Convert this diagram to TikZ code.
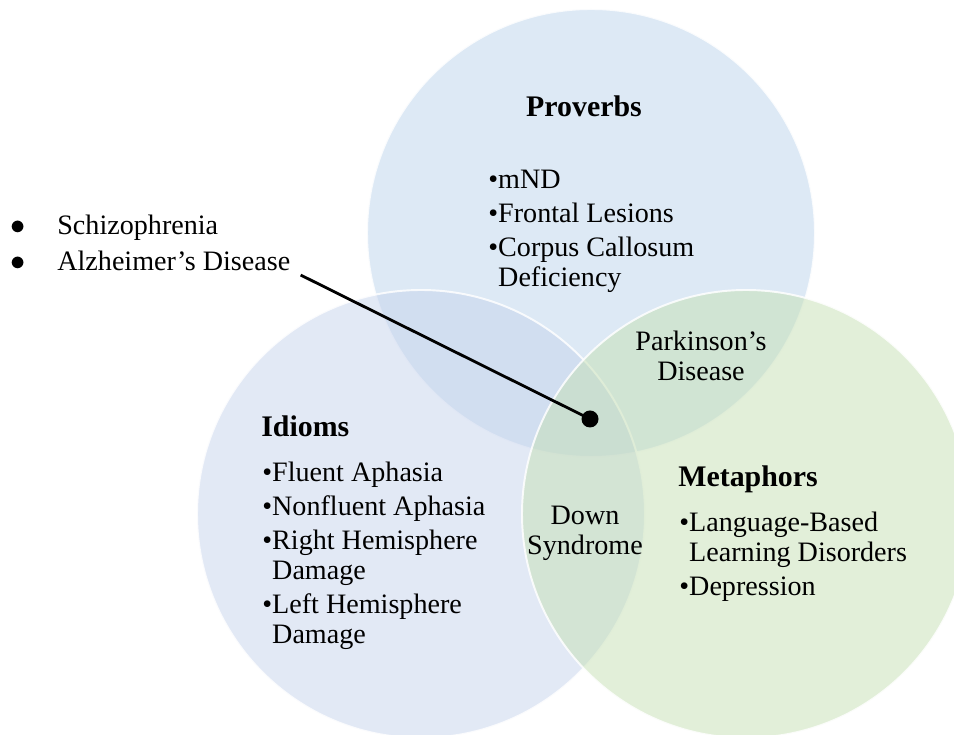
\documentclass[tikz,border=0pt]{standalone}
\usepackage{fontspec}
\setmainfont{Liberation Serif}
\usepackage{xcolor}
\usepackage{tikz}
\usetikzlibrary{positioning}

\definecolor{provblue}{HTML}{BBD3EB}
\definecolor{idiomblue}{HTML}{C6D3EC}
\definecolor{metagreen}{HTML}{C5DFB3}

\tikzset{
  venn/.style={draw=white, line width=1.1pt, fill opacity=0.5, draw opacity=0.85},
  head/.style={font=\fontsize{17}{20}\selectfont\bfseries, inner sep=0pt},
  lst/.style={align=left, anchor=north west, inner sep=0pt},
  ovl/.style={align=center, anchor=north, inner sep=0pt}
}

\begin{document}
\begin{tikzpicture}[font=\fontsize{16}{17}\selectfont]
  \useasboundingbox (0,0) rectangle (19.08,14.70);
  % --- Circles ---
  \path[venn, fill=provblue] (11.82,10.04) circle (4.48);
  \path[venn, fill=idiomblue] (8.42,4.42) circle (4.48);
  \path[venn, fill=metagreen] (14.92,4.42) circle (4.48);
  % --- Proverbs ---
  \node[head, anchor=base] (prov) at (11.68,12.36) {Proverbs};
  \node[lst] (provlist) at (9.76,11.30) {\textbullet mND\\[2.3pt]
    \textbullet Frontal Lesions\\[2.3pt]
    \textbullet Corpus Callosum\\
    \phantom{\textbullet}Deficiency};
  % --- Idioms ---
  \node[head, anchor=base west] (idi) at (5.22,5.96) {Idioms};
  \node[lst] (idilist) at (5.24,5.46) {\textbullet Fluent Aphasia\\[2.3pt]
    \textbullet Nonfluent Aphasia\\[2.3pt]
    \textbullet Right Hemisphere\\
    \phantom{\textbullet}Damage\\[2.3pt]
    \textbullet Left Hemisphere\\
    \phantom{\textbullet}Damage};
  % --- Metaphors ---
  \node[head, anchor=base west] (meta) at (13.56,4.96) {Metaphors};
  \node[lst] (metalist) at (13.58,4.46) {\textbullet Language-Based\\
    \phantom{\textbullet}Learning Disorders\\[2.3pt]
    \textbullet Depression};
  % --- Overlaps ---
  \node[ovl] (park) at (14.02,8.08) {Parkinson's\\Disease};
  \node[ovl] (down) at (11.70,4.58) {Down\\Syndrome};
  % --- Outside ---
  \node[anchor=base west, inner sep=0pt] (ad) at (0.2,10.0)
    {\fontsize{16}{20}\selectfont\begin{tabular}[t]{@{}p{0.94cm}@{}l@{}}
      $\bullet$ & Schizophrenia\\
      $\bullet$ & Alzheimer's Disease
    \end{tabular}};
  \node[circle, fill=black, inner sep=0pt, minimum size=0.34cm] (dot) at (11.80,6.32) {};
  \draw[line width=1.6pt] ([xshift=0.2cm, yshift=0.12cm]ad.south east) -- (dot.center);
\end{tikzpicture}
\end{document}
